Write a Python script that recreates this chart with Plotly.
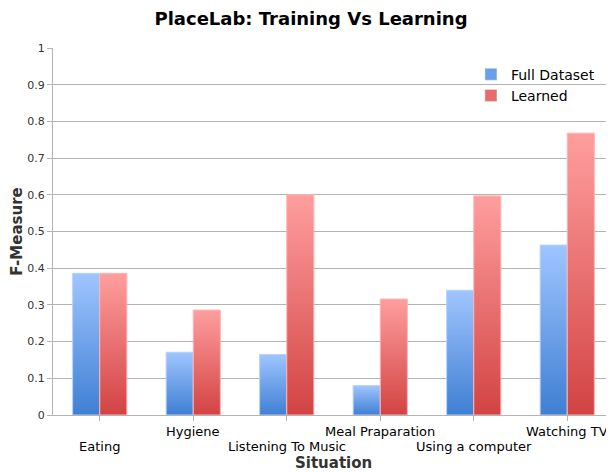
import plotly.graph_objects as go

CATEGORIES = ["Eating", "Hygiene", "Listening To Music", "Meal Praparation", "Using a computer", "Watching TV"]
FULL_DATASET = [0.386, 0.171, 0.165, 0.080, 0.340, 0.463]
LEARNED = [0.386, 0.286, 0.600, 0.316, 0.597, 0.768]
Y_TICKS = [0, 0.1, 0.2, 0.3, 0.4, 0.5, 0.6, 0.7, 0.8, 0.9, 1]
Y_TICK_TEXT = ["0", "0.1", "0.2", "0.3", "0.4", "0.5", "0.6", "0.7", "0.8", "0.9", "1"]

BAR_W = 0.29
FONT = "DejaVu Sans"

series = [
    ("Full Dataset", FULL_DATASET, -1, "#3f7fd3", "#9fc5ff", "#b4d2ff", "#6b9fe8"),
    ("Learned", LEARNED, 0, "#d24343", "#ff9e9e", "#ffb4b4", "#e86a6a"),
]

fig = go.Figure()
for name, values, side, dark, light, edge, mid in series:
    for i, v in enumerate(values):
        x0 = i + side * BAR_W
        x1 = x0 + BAR_W
        fig.add_trace(go.Scatter(
            x=[x0, x1, x1, x0, x0], y=[0, 0, v, v, 0],
            mode="lines", fill="toself",
            fillgradient={"type": "vertical", "colorscale": [[0, dark], [1, light]]},
            line={"color": edge, "width": 1},
            name=name, showlegend=False, hoverinfo="skip",
        ))
    # legend-only swatch
    fig.add_trace(go.Bar(x=[None], y=[None], name=name, marker={"color": mid}))

for i, cat in enumerate(CATEGORIES):
    fig.add_annotation(
        x=i, xref="x", y=-0.044 if i % 2 else -0.085, yref="paper",
        text=cat, showarrow=False, yanchor="middle",
        font={"family": FONT, "size": 13, "color": "#000"},
    )
fig.add_annotation(
    x=0.5, xref="paper", y=-0.131, yref="paper", text="<b>Situation</b>",
    showarrow=False, yanchor="middle", font={"family": FONT, "size": 15, "color": "#333"},
)

# the page body has an 8px margin, so the figure is sized to fit the window after it
fig.update_layout(
    width=606, height=465,
    margin={"l": 45, "r": 0, "t": 40, "b": 58, "autoexpand": False},
    paper_bgcolor="white", plot_bgcolor="white",
    title={"text": "<b>PlaceLab: Training Vs Learning</b>", "x": 0.5, "y": 0.977,
           "xanchor": "center", "yanchor": "middle",
           "font": {"family": FONT, "size": 18, "color": "#000"}},
    legend={"x": 0.745, "y": 0.971, "xanchor": "left", "yanchor": "top",
            "bgcolor": "rgba(0,0,0,0)", "font": {"family": FONT, "size": 14, "color": "#000"},
            "tracegroupgap": 0},
    showlegend=True,
)
fig.update_xaxes(
    range=[-0.5, 5.5], tickvals=list(range(len(CATEGORIES))), ticktext=[""] * len(CATEGORIES),
    ticks="outside", ticklen=5, tickcolor="#b3b3b3", showgrid=False, zeroline=False,
    showline=True, linecolor="#b3b3b3", automargin=False,
)
fig.update_yaxes(
    range=[0, 1], tickvals=Y_TICKS, ticktext=Y_TICK_TEXT,
    ticks="outside", ticklen=5, tickcolor="#b3b3b3",
    showgrid=True, gridcolor="#b3b3b3", gridwidth=1, zeroline=False,
    showline=True, linecolor="#b3b3b3", automargin=False,
    tickfont={"family": FONT, "size": 11, "color": "#333"},
    title={"text": "<b>F-Measure</b>", "standoff": 8, "font": {"family": FONT, "size": 15, "color": "#333"}},
)

fig.write_html("out.html")
